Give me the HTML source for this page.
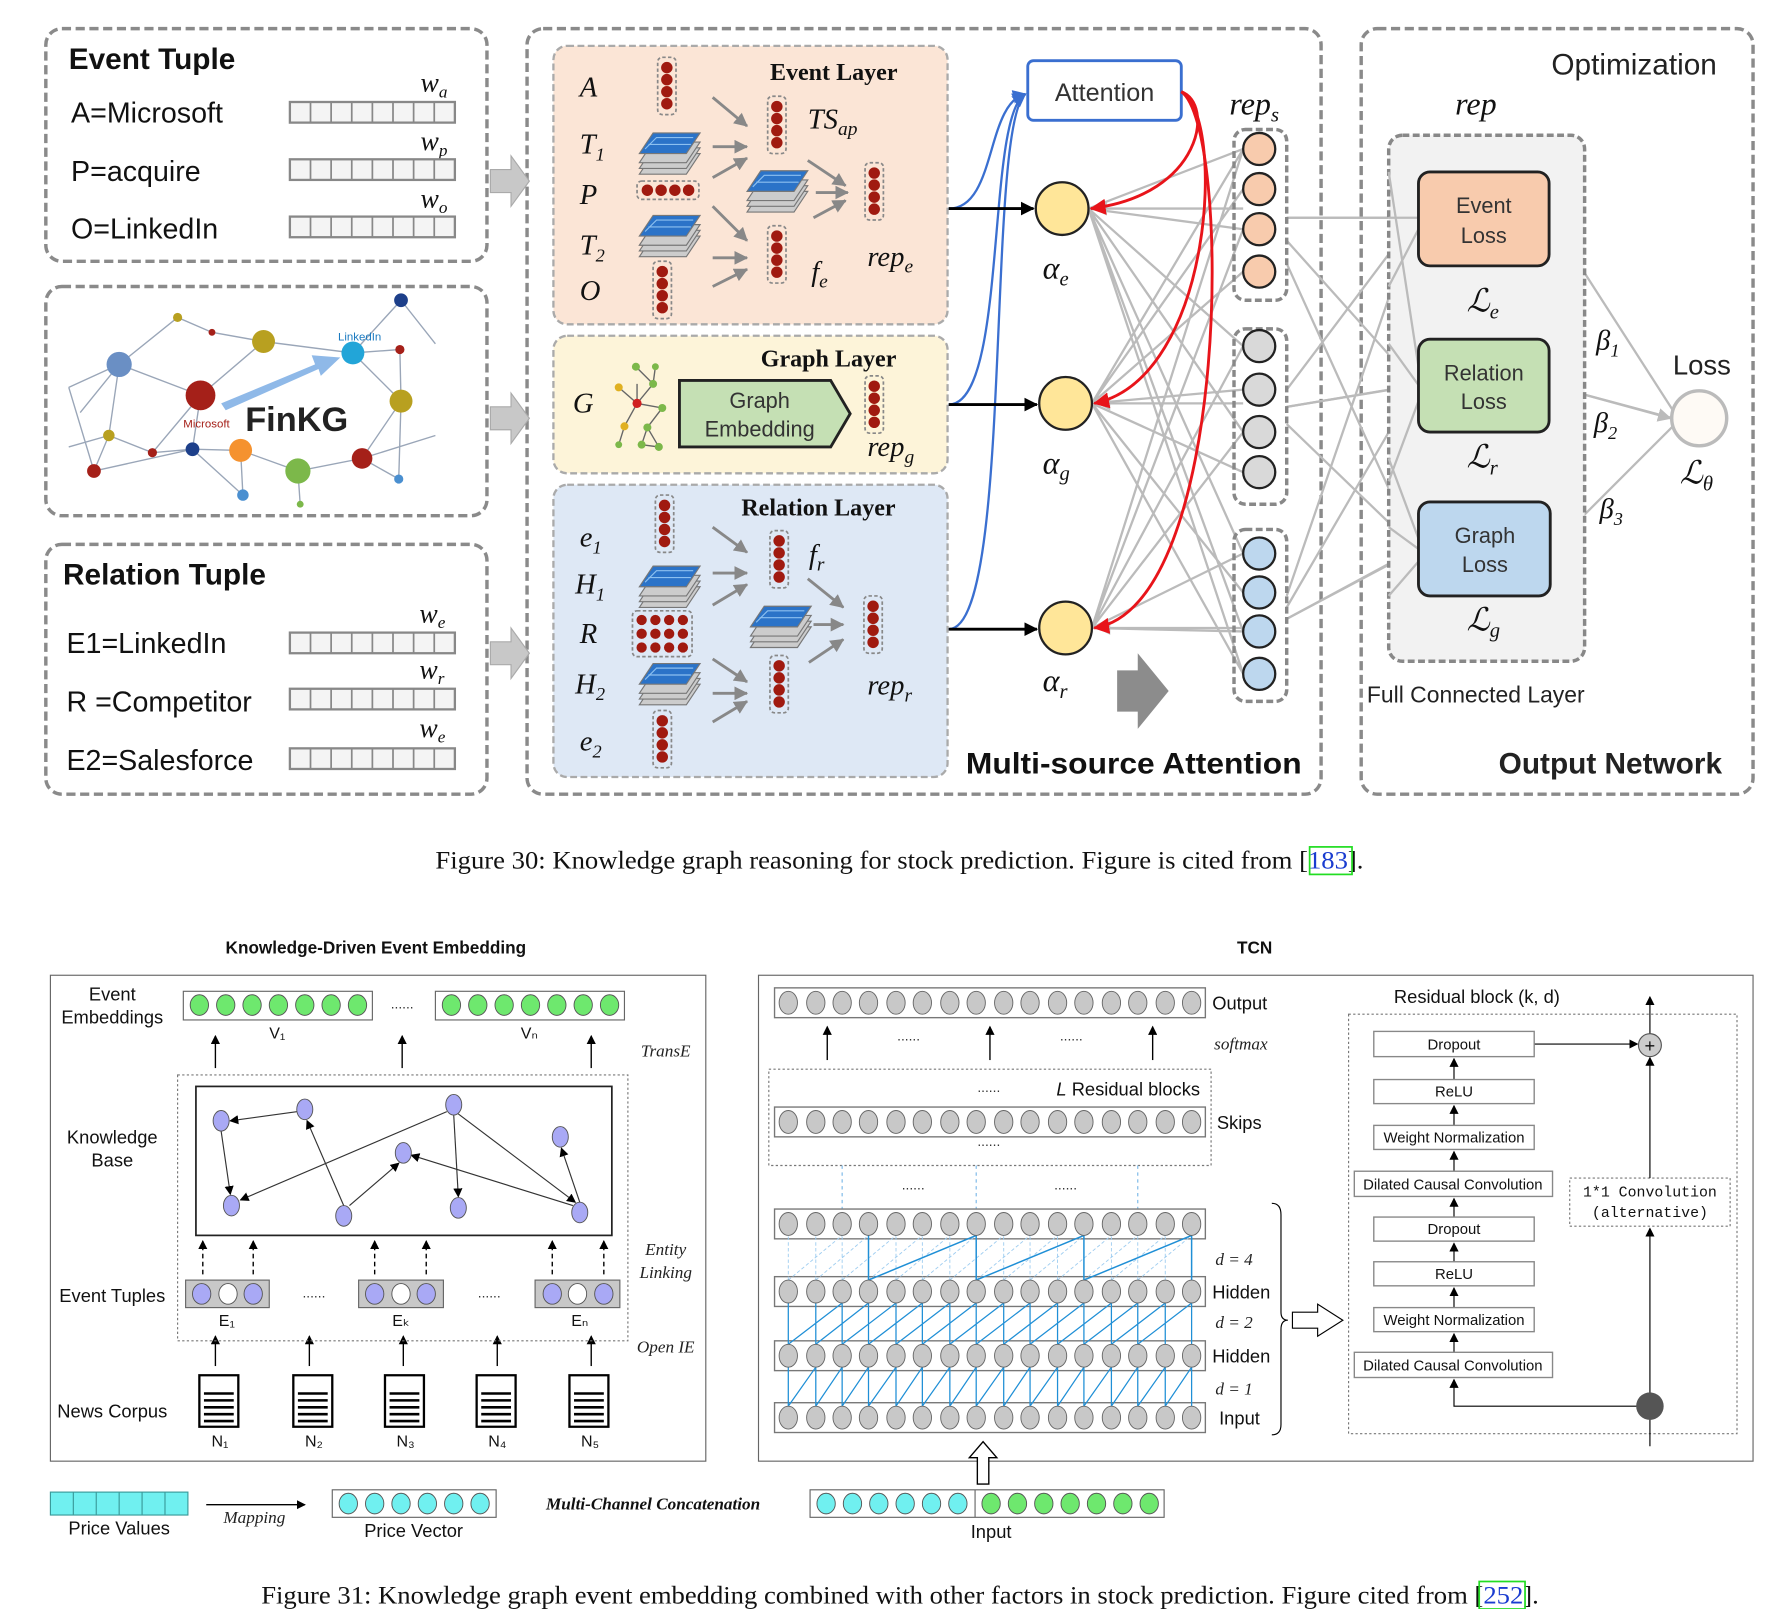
<!DOCTYPE html>
<html><head><meta charset="utf-8"><style>
html,body{margin:0;padding:0;background:#fff;}
svg{display:block}
.s{font-family:"Liberation Sans",sans-serif}
.t{font-family:"Liberation Serif",serif}
</style></head><body>
<svg width="1792" height="1609" viewBox="0 0 1564 1404" preserveAspectRatio="none" xmlns="http://www.w3.org/2000/svg">
<defs>
<marker id="ak" markerWidth="8" markerHeight="8" refX="7" refY="4" orient="auto" markerUnits="userSpaceOnUse"><path d="M0,0L8,4L0,8z" fill="#000"/></marker>
<marker id="ak2" markerWidth="12" markerHeight="12" refX="11" refY="6" orient="auto" markerUnits="userSpaceOnUse"><path d="M0,0L12,6L0,12z" fill="#000"/></marker>
<marker id="ag" markerWidth="12" markerHeight="12" refX="11" refY="6" orient="auto" markerUnits="userSpaceOnUse"><path d="M0,0L12,6L0,12z" fill="#888"/></marker>
<marker id="agl" markerWidth="12" markerHeight="12" refX="11" refY="6" orient="auto" markerUnits="userSpaceOnUse"><path d="M0,0L12,6L0,12z" fill="#bbb"/></marker>
<marker id="ar" markerWidth="14" markerHeight="14" refX="13" refY="7" orient="auto" markerUnits="userSpaceOnUse"><path d="M0,0L14,7L0,14z" fill="#e8141a"/></marker>
<marker id="ab" markerWidth="12" markerHeight="12" refX="11" refY="6" orient="auto" markerUnits="userSpaceOnUse"><path d="M0,0L12,6L0,12z" fill="#3a6fd0"/></marker>
<g id="vb"><rect x="-8" y="0" width="16" height="50" rx="4" fill="none" stroke="#888" stroke-width="1.5" stroke-dasharray="3 2"/><circle cx="0" cy="9" r="5" fill="#a01a10"/><circle cx="0" cy="19.5" r="5" fill="#a01a10"/><circle cx="0" cy="30" r="5" fill="#a01a10"/><circle cx="0" cy="40.5" r="5" fill="#a01a10"/></g>
<g id="ts"><path d="M-25,8L-13,-10L28,-10L16,8z" fill="#ccc" stroke="#777" transform="translate(0,14)"/><path d="M-25,8L-13,-10L28,-10L16,8z" fill="#ccc" stroke="#777" transform="translate(0,9)"/><path d="M-25,8L-13,-10L28,-10L16,8z" fill="#ccc" stroke="#777" transform="translate(0,4)"/><path d="M-25,4L-13,-14L28,-14L16,4z" fill="#2b73c8" stroke="#777"/><path d="M-20,0L-10,-10L22,-10M-17,-4L20,-4" stroke="#8cc0f0" stroke-width="1" fill="none"/></g>
</defs>
<rect width="1564" height="1404" fill="#fff"/>

<!-- ===== FIGURE 30 ===== -->
<g fill="none" stroke="#8a8a8a" stroke-width="3" stroke-dasharray="8 4">
<rect x="40" y="25" width="385" height="203" rx="14"/>
<rect x="40" y="250" width="385" height="200" rx="14"/>
<rect x="40" y="475" width="385" height="218" rx="14"/>
<rect x="460" y="25" width="693" height="668" rx="14"/>
<rect x="1188" y="25" width="342" height="668" rx="14"/>
</g>
<g fill="#c8c8c8" stroke="#aaa">
<path d="M428,148h18v-12l16,22l-16,22v-12h-18z"/>
<path d="M428,355h18v-12l16,22l-16,22v-12h-18z"/>
<path d="M428,560h18v-12l16,22l-16,22v-12h-18z"/>
</g>
<g class="s" fill="#111">
<text x="60" y="60" font-size="26" font-weight="bold">Event Tuple</text>
<text x="62" y="107" font-size="25">A=Microsoft</text>
<text x="62" y="158" font-size="25">P=acquire</text>
<text x="62" y="208" font-size="25">O=LinkedIn</text>
<text x="55" y="510" font-size="26" font-weight="bold">Relation Tuple</text>
<text x="58" y="570" font-size="25">E1=LinkedIn</text>
<text x="58" y="621" font-size="25">R =Competitor</text>
<text x="58" y="672" font-size="25">E2=Salesforce</text>
</g>
<g class="t" font-style="italic" font-size="24" fill="#111">
<text x="367" y="80">w<tspan font-size="15" dy="5">a</tspan></text>
<text x="367" y="131">w<tspan font-size="15" dy="5">p</tspan></text>
<text x="367" y="181">w<tspan font-size="15" dy="5">o</tspan></text>
<text x="366" y="543">w<tspan font-size="15" dy="5">e</tspan></text>
<text x="366" y="592">w<tspan font-size="15" dy="5">r</tspan></text>
<text x="366" y="643">w<tspan font-size="15" dy="5">e</tspan></text>
</g>
<g fill="#f4f4f4" stroke="#888" stroke-width="2">
<rect x="253" y="89" width="144" height="18"/><rect x="253" y="139" width="144" height="18"/><rect x="253" y="189" width="144" height="18"/>
<rect x="253" y="552" width="144" height="18"/><rect x="253" y="601" width="144" height="18"/><rect x="253" y="653" width="144" height="18"/>
</g>
<path d="M271 89v18M289 89v18M307 89v18M325 89v18M343 89v18M361 89v18M379 89v18M271 139v18M289 139v18M307 139v18M325 139v18M343 139v18M361 139v18M379 139v18M271 189v18M289 189v18M307 189v18M325 189v18M343 189v18M361 189v18M379 189v18M271 552v18M289 552v18M307 552v18M325 552v18M343 552v18M361 552v18M379 552v18M271 601v18M289 601v18M307 601v18M325 601v18M343 601v18M361 601v18M379 601v18M271 653v18M289 653v18M307 653v18M325 653v18M343 653v18M361 653v18M379 653v18" stroke="#888" stroke-width="1.5"/>
<!-- FinKG -->
<g stroke="#9aa6b8" stroke-width="1.2" fill="none">
<path d="M60,338L104,318L175,345L230,298L308,308L350,262M104,318L95,380L82,411L168,392L210,393L260,411L316,400L350,350L308,308M175,345L168,392L212,432M230,298L185,290L155,277L104,318M308,308L349,305L350,350L348,418M316,400L348,418M260,411L262,440M95,380L133,395L168,392M60,338L82,411M175,345L133,395M60,390L95,380M350,262L380,300M316,400L380,380M210,393L212,432M104,318L70,360"/>
</g>
<path d="M193,352L275,318L272,310L297,312L280,328L278,322L197,358z" fill="#8fb9e8"/>
<g>
<circle cx="104" cy="318" r="11" fill="#6a8fc4"/><circle cx="175" cy="345" r="13" fill="#a52019"/><circle cx="230" cy="298" r="10" fill="#b8a020"/><circle cx="308" cy="308" r="10" fill="#22a5d8"/><circle cx="350" cy="350" r="10" fill="#b8a020"/><circle cx="210" cy="393" r="10" fill="#f5922f"/><circle cx="260" cy="411" r="11" fill="#7cb84a"/><circle cx="316" cy="400" r="9" fill="#a52019"/><circle cx="168" cy="392" r="6" fill="#1d3f8a"/><circle cx="95" cy="380" r="5" fill="#b8a020"/><circle cx="82" cy="411" r="6" fill="#a52019"/><circle cx="350" cy="262" r="6" fill="#1d3f8a"/><circle cx="155" cy="277" r="4" fill="#b8a020"/><circle cx="212" cy="432" r="5" fill="#4a8fd0"/><circle cx="348" cy="418" r="4" fill="#4a8fd0"/><circle cx="133" cy="395" r="4" fill="#a52019"/><circle cx="185" cy="290" r="3" fill="#a52019"/><circle cx="349" cy="305" r="4" fill="#a52019"/><circle cx="262" cy="440" r="3" fill="#7cb84a"/>
</g>
<text x="214" y="376" class="s" font-size="30" font-weight="bold" fill="#222">FinKG</text>
<text x="160" y="373" class="s" font-size="10" fill="#a52019">Microsoft</text>
<text x="295" y="297" class="s" font-size="10" fill="#1a7ac0">LinkedIn</text>

<!-- Layers -->
<rect x="483" y="40" width="344" height="243" rx="12" fill="#fbe5d6" stroke="#aaa" stroke-width="2" stroke-dasharray="6 3"/>
<rect x="483" y="293" width="344" height="120" rx="12" fill="#fdf4d9" stroke="#aaa" stroke-width="2" stroke-dasharray="6 3"/>
<rect x="483" y="423" width="344" height="255" rx="12" fill="#dee8f5" stroke="#aaa" stroke-width="2" stroke-dasharray="6 3"/>
<g class="t" font-weight="bold" font-size="21" fill="#111">
<text x="672" y="70">Event Layer</text><text x="664" y="320">Graph Layer</text><text x="647" y="450">Relation Layer</text>
</g>
<g class="t" font-style="italic" font-size="25" fill="#111">
<text x="506" y="84">A</text><text x="506" y="134">T<tspan font-size="16" dy="6">1</tspan></text><text x="506" y="178">P</text><text x="506" y="222">T<tspan font-size="16" dy="6">2</tspan></text><text x="506" y="262">O</text>
<text x="705" y="112">TS<tspan font-size="17" dy="6">ap</tspan></text>
<text x="708" y="245">f<tspan font-size="17" dy="6">e</tspan></text>
<text x="757" y="232">rep<tspan font-size="17" dy="6">e</tspan></text>
<text x="500" y="360">G</text>
<text x="757" y="398">rep<tspan font-size="17" dy="6">g</tspan></text>
<text x="506" y="477">e<tspan font-size="16" dy="6">1</tspan></text><text x="502" y="518">H<tspan font-size="16" dy="6">1</tspan></text><text x="506" y="561">R</text><text x="502" y="605">H<tspan font-size="16" dy="6">2</tspan></text><text x="506" y="655">e<tspan font-size="16" dy="6">2</tspan></text>
<text x="706" y="492">f<tspan font-size="17" dy="6">r</tspan></text>
<text x="757" y="606">rep<tspan font-size="17" dy="6">r</tspan></text>
</g>
<use href="#vb" x="582" y="50"/><use href="#vb" x="578" y="228"/><use href="#vb" x="678" y="84"/><use href="#vb" x="678" y="197"/><use href="#vb" x="763" y="142"/>
<rect x="556" y="158" width="54" height="16" rx="4" fill="none" stroke="#888" stroke-width="1.5" stroke-dasharray="3 2"/>
<g fill="#a01a10"><circle cx="565" cy="166" r="5"/><circle cx="577" cy="166" r="5"/><circle cx="589" cy="166" r="5"/><circle cx="601" cy="166" r="5"/></g>
<use href="#ts" x="583" y="130"/><use href="#ts" x="583" y="202"/><use href="#ts" x="677" y="163"/>
<g stroke="#888" stroke-width="2.5" marker-end="url(#ag)" fill="none">
<path d="M622,85L652,110"/><path d="M622,128L652,128"/><path d="M622,155L652,138"/><path d="M622,180L652,210"/><path d="M622,225L652,225"/><path d="M622,250L652,235"/><path d="M705,140L738,162"/><path d="M712,168L740,168"/><path d="M710,190L738,175"/>
<path d="M622,460L652,482"/><path d="M622,500L652,500"/><path d="M622,528L652,510"/><path d="M622,575L652,595"/><path d="M622,605L652,605"/><path d="M622,630L652,612"/><path d="M705,505L736,530"/><path d="M710,545L736,545"/><path d="M706,578L736,558"/>
</g>
<use href="#vb" x="580" y="432"/><use href="#vb" x="578" y="620"/><use href="#vb" x="680" y="463"/><use href="#vb" x="680" y="572"/><use href="#vb" x="762" y="520"/>
<use href="#ts" x="583" y="508"/><use href="#ts" x="583" y="593"/><use href="#ts" x="680" y="543"/>
<rect x="552" y="533" width="52" height="40" rx="4" fill="none" stroke="#888" stroke-width="1.5" stroke-dasharray="3 2"/>
<g fill="#a01a10"><circle cx="560" cy="541" r="4.5"/><circle cx="572" cy="541" r="4.5"/><circle cx="584" cy="541" r="4.5"/><circle cx="596" cy="541" r="4.5"/><circle cx="560" cy="553" r="4.5"/><circle cx="572" cy="553" r="4.5"/><circle cx="584" cy="553" r="4.5"/><circle cx="596" cy="553" r="4.5"/><circle cx="560" cy="565" r="4.5"/><circle cx="572" cy="565" r="4.5"/><circle cx="584" cy="565" r="4.5"/><circle cx="596" cy="565" r="4.5"/></g>
<g stroke="#666" stroke-width="1.2" fill="none"><path d="M555,320L570,335L556,352L540,338M556,352L578,356L565,373L575,390L560,388L565,373M556,352L545,372L540,388M570,335L572,320M556,352L556,335"/></g>
<g><circle cx="555" cy="320" r="3.5" fill="#7cb84a"/><circle cx="570" cy="335" r="3.5" fill="#7cb84a"/><circle cx="556" cy="352" r="4" fill="#d02020"/><circle cx="540" cy="338" r="3.5" fill="#e0b020"/><circle cx="578" cy="356" r="3.5" fill="#7cb84a"/><circle cx="565" cy="373" r="3.5" fill="#7cb84a"/><circle cx="575" cy="390" r="3.5" fill="#7cb84a"/><circle cx="560" cy="388" r="3.5" fill="#7cb84a"/><circle cx="545" cy="372" r="3.5" fill="#e0b020"/><circle cx="540" cy="388" r="3" fill="#7cb84a"/><circle cx="572" cy="320" r="3" fill="#7cb84a"/></g>
<path d="M593,332H725L742,361L725,390H593z" fill="#c5e0b4" stroke="#222" stroke-width="2.5"/>
<text x="663" y="356" class="s" font-size="19" text-anchor="middle" fill="#333">Graph</text>
<text x="663" y="381" class="s" font-size="19" text-anchor="middle" fill="#333">Embedding</text>
<use href="#vb" x="763" y="328"/>

<!-- attention -->
<rect x="897" y="53" width="134" height="52" rx="5" fill="#fff" stroke="#3a6fd0" stroke-width="2.5"/>
<text x="964" y="88" class="s" font-size="22" text-anchor="middle" fill="#333">Attention</text>
<g stroke="#3a6fd0" stroke-width="2" fill="none" marker-end="url(#ab)">
<path d="M828,182C870,182 860,90 895,82"/><path d="M828,353C880,353 860,100 895,82"/><path d="M828,549C885,549 860,110 895,82"/>
</g>
<g stroke="#bbb" stroke-width="2" fill="none">
<path d="M950,182L1085,130M950,182L1085,200M950,182L1085,302M950,182L1085,377M950,182L1085,483M950,182L1085,551M953,352L1085,165M953,352L1085,237M953,352L1085,340M953,352L1085,412M953,352L1085,517M953,352L1085,588M953,548L1085,130M953,548L1085,200M953,548L1085,302M953,548L1085,377M953,548L1085,483M953,548L1085,551M950,182L1085,588M953,352L1085,130"/>
<path d="M1123,190L1236,190M1123,210L1236,336M1123,230L1236,479M1123,340L1236,190M1123,355L1236,336M1123,370L1236,479M1123,520L1236,190M1123,530L1236,336M1123,540L1236,479M1352,190L1460,358M1352,336L1460,365M1353,479L1460,372"/>
</g>
<g stroke="#bbb" stroke-width="2" fill="none" marker-end="url(#agl)">
<path d="M1085,182L955,182"/><path d="M1085,352L958,352"/><path d="M1085,548L958,548"/>
<path d="M1123,190L1238,190"/><path d="M1123,355L1238,336"/><path d="M1123,540L1238,479"/>
<path d="M1352,336L1458,365"/>
</g>
<g stroke="#e8141a" stroke-width="2.5" fill="none" marker-end="url(#ar)">
<path d="M1031,80C1060,90 1050,170 952,182"/><path d="M1031,80C1070,100 1060,330 955,352"/><path d="M1031,80C1075,110 1075,530 955,548"/>
</g>
<g stroke="#000" stroke-width="2.5" marker-end="url(#ak2)"><path d="M828,182H902"/><path d="M828,353H905"/><path d="M828,549H905"/></g>
<g fill="#ffe699" stroke="#222" stroke-width="2"><circle cx="927" cy="182" r="23"/><circle cx="930" cy="352" r="23"/><circle cx="930" cy="548" r="23"/></g>
<g class="t" font-style="italic" font-size="28" fill="#111">
<text x="910" y="243">α<tspan font-size="18" dy="6">e</tspan></text>
<text x="910" y="413">α<tspan font-size="18" dy="6">g</tspan></text>
<text x="910" y="603">α<tspan font-size="18" dy="6">r</tspan></text>
<text x="1073" y="100">rep<tspan font-size="18" dy="6">s</tspan></text>
<text x="1270" y="100">rep</text>
</g>
<g fill="none" stroke="#888" stroke-width="3" stroke-dasharray="6 3">
<rect x="1077" y="113" width="46" height="149" rx="10"/><rect x="1077" y="287" width="46" height="153" rx="10"/><rect x="1077" y="462" width="46" height="150" rx="10"/>
</g>
<g stroke="#222" stroke-width="2">
<g fill="#f8cbad"><circle cx="1099" cy="130" r="14"/><circle cx="1099" cy="165" r="14"/><circle cx="1099" cy="200" r="14"/><circle cx="1099" cy="237" r="14"/></g>
<g fill="#d9d9d9"><circle cx="1099" cy="302" r="14"/><circle cx="1099" cy="340" r="14"/><circle cx="1099" cy="377" r="14"/><circle cx="1099" cy="412" r="14"/></g>
<g fill="#bdd7ee"><circle cx="1099" cy="483" r="14"/><circle cx="1099" cy="517" r="14"/><circle cx="1099" cy="551" r="14"/><circle cx="1099" cy="588" r="14"/></g>
</g>
<path d="M975,585h18v-15l27,33l-27,33v-15h-18z" fill="#8c8c8c"/>
<text x="843" y="675" class="s" font-size="26" font-weight="bold" fill="#111" textLength="293" lengthAdjust="spacingAndGlyphs">Multi-source Attention</text>
<rect x="1212" y="118" width="171" height="459" rx="12" fill="#f2f2f2" stroke="#888" stroke-width="3" stroke-dasharray="6 3"/>
<g stroke="#bbb" stroke-width="2" fill="none">
<path d="M1212,190L1238,190M1212,250L1238,200M1212,300L1238,336M1212,420L1238,350M1212,460L1238,479M1212,520L1238,490M1212,150L1238,320M1212,400L1238,470"/>
</g>
<rect x="1238" y="150" width="114" height="82" rx="10" fill="#f8cbad" stroke="#222" stroke-width="2.5"/>
<rect x="1238" y="296" width="114" height="81" rx="10" fill="#c5e0b4" stroke="#222" stroke-width="2.5"/>
<rect x="1238" y="438" width="115" height="82" rx="10" fill="#bdd7ee" stroke="#222" stroke-width="2.5"/>
<g class="s" font-size="19" text-anchor="middle" fill="#333">
<text x="1295" y="186">Event</text><text x="1295" y="212">Loss</text>
<text x="1295" y="332">Relation</text><text x="1295" y="357">Loss</text>
<text x="1296" y="474">Graph</text><text x="1296" y="499">Loss</text>
</g>
<circle cx="1483" cy="365" r="24" fill="#fefaf5" stroke="#bbb" stroke-width="3"/>
<g class="s" fill="#222"><text x="1354" y="65" font-size="26">Optimization</text><text x="1460" y="327" font-size="24">Loss</text><text x="1193" y="613" font-size="20">Full Connected Layer</text><text x="1308" y="675" font-size="26" font-weight="bold">Output Network</text></g>
<g class="t" font-style="italic" font-size="28" fill="#111">
<text x="1280" y="272">ℒ<tspan font-size="18" dy="6">e</tspan></text>
<text x="1280" y="408">ℒ<tspan font-size="18" dy="6">r</tspan></text>
<text x="1280" y="550">ℒ<tspan font-size="18" dy="6">g</tspan></text>
<text x="1466" y="422">ℒ<tspan font-size="18" dy="6">θ</tspan></text>
<text x="1393" y="305" font-size="25">β<tspan font-size="16" dy="6">1</tspan></text>
<text x="1391" y="377" font-size="25">β<tspan font-size="16" dy="6">2</tspan></text>
<text x="1396" y="452" font-size="25">β<tspan font-size="16" dy="6">3</tspan></text>
</g>
<text x="380" y="758" class="t" font-size="22" fill="#111" textLength="810" lengthAdjust="spacingAndGlyphs">Figure 30: Knowledge graph reasoning for stock prediction. Figure is cited from [<tspan fill="#1a3cd0">183</tspan>].</text>
<rect x="1143" y="739" width="37" height="24" fill="none" stroke="#22dd22" stroke-width="1.5"/>

<!-- ===== FIGURE 31 ===== -->
<g class="s" font-size="15" font-weight="bold" fill="#111"><text x="328" y="832" text-anchor="middle">Knowledge-Driven Event Embedding</text><text x="1095" y="832" text-anchor="middle">TCN</text></g>
<rect x="44" y="851" width="572" height="424" fill="none" stroke="#666" stroke-width="1"/>
<rect x="662" y="851" width="868" height="424" fill="none" stroke="#666" stroke-width="1"/>
<g class="s" font-size="16" fill="#111" text-anchor="middle">
<text x="98" y="873">Event</text><text x="98" y="893">Embeddings</text>
<text x="98" y="998">Knowledge</text><text x="98" y="1018">Base</text>
<text x="98" y="1136">Event Tuples</text>
<text x="98" y="1237">News Corpus</text>
<text x="242" y="906" font-size="14">V₁</text><text x="462" y="906" font-size="14">Vₙ</text>
<text x="198" y="1157" font-size="14">E₁</text><text x="350" y="1157" font-size="14">Eₖ</text><text x="506" y="1157" font-size="14">Eₙ</text>
<text x="192" y="1262" font-size="14">N₁</text><text x="274" y="1262" font-size="14">N₂</text><text x="354" y="1262" font-size="14">N₃</text><text x="434" y="1262" font-size="14">N₄</text><text x="515" y="1262" font-size="14">N₅</text>
<text x="104" y="1339">Price Values</text><text x="361" y="1341">Price Vector</text><text x="865" y="1342">Input</text>
<text x="1289" y="875">Residual block (k, d)</text>
</g>
<g class="t" font-style="italic" font-size="15" fill="#222" text-anchor="middle">
<text x="581" y="922">TransE</text><text x="581" y="1095">Entity</text><text x="581" y="1115">Linking</text><text x="581" y="1180">Open IE</text><text x="222" y="1329">Mapping</text>
<text x="1083" y="916">softmax</text><text x="1077" y="1104">d = 4</text><text x="1077" y="1159">d = 2</text><text x="1077" y="1217">d = 1</text>
</g>
<text x="570" y="1317" class="t" font-style="italic" font-weight="bold" font-size="15" text-anchor="middle" fill="#111">Multi-Channel Concatenation</text>
<rect x="160" y="865" width="165" height="25" fill="#fff" stroke="#666"/><rect x="380" y="865" width="165" height="25" fill="#fff" stroke="#666"/>
<rect x="290" y="1300" width="143" height="24" fill="#fff" stroke="#666"/>
<rect x="707" y="1300" width="309" height="24" fill="#fff" stroke="#666"/><path d="M851 1300v24" stroke="#666"/>
<g fill="#6ee86e" stroke="#555" stroke-width="0.8">
<ellipse cx="174" cy="877" rx="8" ry="9"/><ellipse cx="197" cy="877" rx="8" ry="9"/><ellipse cx="220" cy="877" rx="8" ry="9"/><ellipse cx="243" cy="877" rx="8" ry="9"/><ellipse cx="266" cy="877" rx="8" ry="9"/><ellipse cx="289" cy="877" rx="8" ry="9"/><ellipse cx="312" cy="877" rx="8" ry="9"/>
<ellipse cx="394" cy="877" rx="8" ry="9"/><ellipse cx="417" cy="877" rx="8" ry="9"/><ellipse cx="440" cy="877" rx="8" ry="9"/><ellipse cx="463" cy="877" rx="8" ry="9"/><ellipse cx="486" cy="877" rx="8" ry="9"/><ellipse cx="509" cy="877" rx="8" ry="9"/><ellipse cx="532" cy="877" rx="8" ry="9"/>
<ellipse cx="865" cy="1312" rx="8" ry="9"/><ellipse cx="888" cy="1312" rx="8" ry="9"/><ellipse cx="911" cy="1312" rx="8" ry="9"/><ellipse cx="934" cy="1312" rx="8" ry="9"/><ellipse cx="957" cy="1312" rx="8" ry="9"/><ellipse cx="980" cy="1312" rx="8" ry="9"/><ellipse cx="1003" cy="1312" rx="8" ry="9"/>
</g>
<g class="s" font-size="12" fill="#333" text-anchor="middle"><text x="351" y="880">......</text><text x="274" y="1132">......</text><text x="427" y="1132">......</text><text x="793" y="908">......</text><text x="935" y="908">......</text><text x="863" y="953">......</text><text x="863" y="1000">......</text><text x="797" y="1038">......</text><text x="930" y="1038">......</text></g>
<g stroke="#000" stroke-width="1.2" marker-end="url(#ak)">
<path d="M188,932V904"/><path d="M351,932V904"/><path d="M516,932V904"/><path d="M188,1192V1166"/><path d="M270,1192V1166"/><path d="M352,1192V1166"/><path d="M434,1192V1166"/><path d="M516,1192V1166"/><path d="M722,925V896"/><path d="M864,925V896"/><path d="M1006,925V896"/><path d="M180,1313H266"/>
</g>
<g stroke="#000" stroke-width="1.2" stroke-dasharray="4 3" marker-end="url(#ak)"><path d="M177,1112V1083"/><path d="M221,1112V1083"/><path d="M327,1112V1083"/><path d="M372,1112V1083"/><path d="M482,1112V1083"/><path d="M527,1112V1083"/></g>
<rect x="155" y="938" width="393" height="232" fill="none" stroke="#777" stroke-dasharray="2 2"/>
<rect x="171" y="948" width="363" height="130" fill="#fff" stroke="#222" stroke-width="1.5"/>
<g stroke="#333" stroke-width="1" fill="none" marker-end="url(#ak)">
<path d="M259,970L201,978"/><path d="M193,987L201,1042"/><path d="M300,1052L268,978"/><path d="M305,1052L348,1015"/><path d="M390,970L210,1047"/><path d="M396,973L400,1044"/><path d="M400,972L502,1049"/><path d="M500,1052L359,1008"/><path d="M506,1049L490,1002"/>
</g>
<g fill="#a9a9f5" stroke="#555" stroke-width="0.8">
<ellipse cx="193" cy="978" rx="7" ry="9"/><ellipse cx="266" cy="968" rx="7" ry="9"/><ellipse cx="396" cy="964" rx="7" ry="9"/><ellipse cx="352" cy="1006" rx="7" ry="9"/><ellipse cx="489" cy="992" rx="7" ry="9"/><ellipse cx="202" cy="1052" rx="7" ry="9"/><ellipse cx="300" cy="1061" rx="7" ry="9"/><ellipse cx="400" cy="1054" rx="7" ry="9"/><ellipse cx="506" cy="1058" rx="7" ry="9"/>
</g>
<g fill="#c8c8c8" stroke="#666"><rect x="162" y="1117" width="73" height="24"/><rect x="313" y="1117" width="74" height="24"/><rect x="467" y="1117" width="74" height="24"/></g>
<g stroke="#555" stroke-width="0.8">
<ellipse cx="176" cy="1129" rx="8" ry="9" fill="#a9a9f5"/><ellipse cx="199" cy="1129" rx="8" ry="9" fill="#fff"/><ellipse cx="221" cy="1129" rx="8" ry="9" fill="#a9a9f5"/>
<ellipse cx="327" cy="1129" rx="8" ry="9" fill="#a9a9f5"/><ellipse cx="350" cy="1129" rx="8" ry="9" fill="#fff"/><ellipse cx="372" cy="1129" rx="8" ry="9" fill="#a9a9f5"/>
<ellipse cx="482" cy="1129" rx="8" ry="9" fill="#a9a9f5"/><ellipse cx="504" cy="1129" rx="8" ry="9" fill="#fff"/><ellipse cx="527" cy="1129" rx="8" ry="9" fill="#a9a9f5"/>
</g>
<g fill="#fff" stroke="#000" stroke-width="2">
<path d="M174,1200H208V1245H174V1212z"/><path d="M256,1200H290V1245H256V1212z"/><path d="M336,1200H370V1245H336V1212z"/><path d="M416,1200H450V1245H416V1212z"/><path d="M497,1200H531V1245H497V1212z"/>
</g>
<g stroke="#000" stroke-width="2.2"><path d="M178,1216h26M178,1222h26M178,1228h26M178,1234h26M178,1240h26M260,1216h26M260,1222h26M260,1228h26M260,1234h26M260,1240h26M340,1216h26M340,1222h26M340,1228h26M340,1234h26M340,1240h26M420,1216h26M420,1222h26M420,1228h26M420,1234h26M420,1240h26M501,1216h26M501,1222h26M501,1228h26M501,1234h26M501,1240h26"/></g>
<rect x="44" y="1302" width="120" height="20" fill="#70f0f0" stroke="#3a9a9a"/>
<path d="M64 1302v20M84 1302v20M104 1302v20M124 1302v20M144 1302v20" stroke="#3a9a9a"/>
<g fill="#70f0f0" stroke="#555" stroke-width="0.8">
<ellipse cx="304" cy="1312" rx="8" ry="9"/><ellipse cx="327" cy="1312" rx="8" ry="9"/><ellipse cx="350" cy="1312" rx="8" ry="9"/><ellipse cx="373" cy="1312" rx="8" ry="9"/><ellipse cx="396" cy="1312" rx="8" ry="9"/><ellipse cx="419" cy="1312" rx="8" ry="9"/>
<ellipse cx="721" cy="1312" rx="8" ry="9"/><ellipse cx="744" cy="1312" rx="8" ry="9"/><ellipse cx="767" cy="1312" rx="8" ry="9"/><ellipse cx="790" cy="1312" rx="8" ry="9"/><ellipse cx="813" cy="1312" rx="8" ry="9"/><ellipse cx="836" cy="1312" rx="8" ry="9"/>
</g>
<path d="M853,1295V1272H846L858,1258L870,1272H863V1295z" fill="#fff" stroke="#000" stroke-width="1.2"/>
<!-- TCN -->
<rect x="671" y="933" width="386" height="84" fill="none" stroke="#777" stroke-dasharray="2 2"/>
<g stroke="#7ab8e8" stroke-dasharray="3 3"><path d="M735 1017V1058M852 1017V1058M993 1017V1058"/></g>
<g fill="#fff" stroke="#777" stroke-width="1.2">
<rect x="676" y="862" width="376" height="26"/><rect x="676" y="966" width="376" height="26"/><rect x="676" y="1055" width="376" height="26"/><rect x="676" y="1114" width="376" height="26"/><rect x="676" y="1170" width="376" height="26"/><rect x="676" y="1224" width="376" height="26"/>
</g>
<path d="M688 1117L735 1078M712 1117L758 1078M735 1117L782 1078M758 1117L805 1078M782 1117L829 1078M805 1117L852 1078M829 1117L876 1078M852 1117L899 1078M876 1117L923 1078M899 1117L946 1078M923 1117L970 1078M946 1117L993 1078M970 1117L1017 1078M993 1117L1040 1078M688 1117V1078M712 1117V1078M735 1117V1078M782 1117V1078M805 1117V1078M829 1117V1078M876 1117V1078M899 1117V1078M923 1117V1078M970 1117V1078M993 1117V1078M1017 1117V1078M1040 1117V1078" stroke="#9fcdf0" stroke-width="0.8" stroke-dasharray="3 2"/>
<path d="M758 1117V1078M852 1117V1078M946 1117V1078M1040 1117V1078M758 1117L852 1078M852 1117L946 1078M946 1117L1040 1078" stroke="#1f8fd6" stroke-width="1.3"/>
<path d="M688 1173L735 1137M712 1173L758 1137M735 1173L782 1137M758 1173L805 1137M782 1173L829 1137M805 1173L852 1137M829 1173L876 1137M852 1173L899 1137M876 1173L923 1137M899 1173L946 1137M923 1173L970 1137M946 1173L993 1137M970 1173L1017 1137M993 1173L1040 1137M688 1173V1137M712 1173V1137M735 1173V1137M758 1173V1137M782 1173V1137M805 1173V1137M829 1173V1137M852 1173V1137M876 1173V1137M899 1173V1137M923 1173V1137M946 1173V1137M970 1173V1137M993 1173V1137M1017 1173V1137M1040 1173V1137" stroke="#1f8fd6" stroke-width="1.1"/>
<path d="M688 1227L712 1193M712 1227L735 1193M735 1227L758 1193M758 1227L782 1193M782 1227L805 1193M805 1227L829 1193M829 1227L852 1193M852 1227L876 1193M876 1227L899 1193M899 1227L923 1193M923 1227L946 1193M946 1227L970 1193M970 1227L993 1193M993 1227L1017 1193M1017 1227L1040 1193M688 1227V1193M712 1227V1193M735 1227V1193M758 1227V1193M782 1227V1193M805 1227V1193M829 1227V1193M852 1227V1193M876 1227V1193M899 1227V1193M923 1227V1193M946 1227V1193M970 1227V1193M993 1227V1193M1017 1227V1193M1040 1227V1193" stroke="#1f8fd6" stroke-width="1.1"/>
<g fill="#c8c8c8" stroke="#666" stroke-width="0.8">
<g id="row"><ellipse cx="688" cy="875" rx="8" ry="10"/><ellipse cx="712" cy="875" rx="8" ry="10"/><ellipse cx="735" cy="875" rx="8" ry="10"/><ellipse cx="758" cy="875" rx="8" ry="10"/><ellipse cx="782" cy="875" rx="8" ry="10"/><ellipse cx="805" cy="875" rx="8" ry="10"/><ellipse cx="829" cy="875" rx="8" ry="10"/><ellipse cx="852" cy="875" rx="8" ry="10"/><ellipse cx="876" cy="875" rx="8" ry="10"/><ellipse cx="899" cy="875" rx="8" ry="10"/><ellipse cx="923" cy="875" rx="8" ry="10"/><ellipse cx="946" cy="875" rx="8" ry="10"/><ellipse cx="970" cy="875" rx="8" ry="10"/><ellipse cx="993" cy="875" rx="8" ry="10"/><ellipse cx="1017" cy="875" rx="8" ry="10"/><ellipse cx="1040" cy="875" rx="8" ry="10"/></g>
<use href="#row" y="104"/><use href="#row" y="193"/><use href="#row" y="252"/><use href="#row" y="308"/><use href="#row" y="362"/>
</g>
<g class="s" font-size="16" fill="#111">
<text x="1058" y="881">Output</text><text x="1062" y="985">Skips</text><text x="1058" y="1133">Hidden</text><text x="1058" y="1189">Hidden</text><text x="1064" y="1243">Input</text>
<text x="922" y="956"><tspan font-style="italic">L</tspan> Residual blocks</text>
</g>
<path d="M1110,1050Q1118,1050 1118,1060V1145Q1118,1152 1124,1152Q1118,1152 1118,1160V1243Q1118,1252 1110,1252" fill="none" stroke="#000" stroke-width="1"/>
<path d="M1128,1145H1150V1138L1172,1152L1150,1166V1159H1128z" fill="#fff" stroke="#000" stroke-width="1"/>
<rect x="1177" y="885" width="339" height="366" fill="none" stroke="#777" stroke-dasharray="2 2"/>
<rect x="1370" y="1028" width="140" height="42" fill="#fff" stroke="#777" stroke-dasharray="2 2"/>
<g stroke="#000" stroke-width="1" fill="none" marker-end="url(#ak)">
<path d="M1269,942V924"/><path d="M1269,982V965"/><path d="M1269,1022V1005"/><path d="M1269,1062V1046"/><path d="M1269,1101V1085"/><path d="M1269,1141V1124"/><path d="M1269,1180V1164"/><path d="M1339,911H1429"/><path d="M1440,1262V1072"/><path d="M1440,1028V923"/><path d="M1440,902V870"/>
<path d="M1440,1227H1269V1204"/>
</g>
<g fill="#fff" stroke="#888" stroke-width="1.2">
<rect x="1199" y="900" width="140" height="22"/><rect x="1199" y="942" width="140" height="21"/><rect x="1199" y="982" width="140" height="21"/><rect x="1182" y="1022" width="173" height="22"/><rect x="1199" y="1062" width="140" height="21"/><rect x="1199" y="1101" width="140" height="21"/><rect x="1199" y="1141" width="140" height="21"/><rect x="1182" y="1180" width="173" height="22"/>
</g>
<g class="s" font-size="13" fill="#111" text-anchor="middle">
<text x="1269" y="916">Dropout</text><text x="1269" y="957">ReLU</text><text x="1269" y="997">Weight Normalization</text><text x="1268" y="1038">Dilated Causal Convolution</text><text x="1269" y="1077">Dropout</text><text x="1269" y="1116">ReLU</text><text x="1269" y="1156">Weight Normalization</text><text x="1268" y="1196">Dilated Causal Convolution</text>
</g>
<g font-family="'Liberation Mono',monospace" font-size="13" fill="#111" text-anchor="middle"><text x="1440" y="1044">1*1 Convolution</text><text x="1440" y="1062">(alternative)</text></g>
<circle cx="1440" cy="912" r="10" fill="#ccc" stroke="#555"/>
<text x="1440" y="918" class="s" font-size="16" text-anchor="middle" fill="#111">+</text>
<ellipse cx="1440" cy="1227" rx="12" ry="12" fill="#555"/>
<text x="228" y="1399" class="t" font-size="22" fill="#111" textLength="1115" lengthAdjust="spacingAndGlyphs">Figure 31: Knowledge graph event embedding combined with other factors in stock prediction. Figure cited from [<tspan fill="#1a3cd0">252</tspan>].</text>
<rect x="1291" y="1380" width="40" height="24" fill="none" stroke="#22dd22" stroke-width="1.5"/>
</svg>
</body></html>
